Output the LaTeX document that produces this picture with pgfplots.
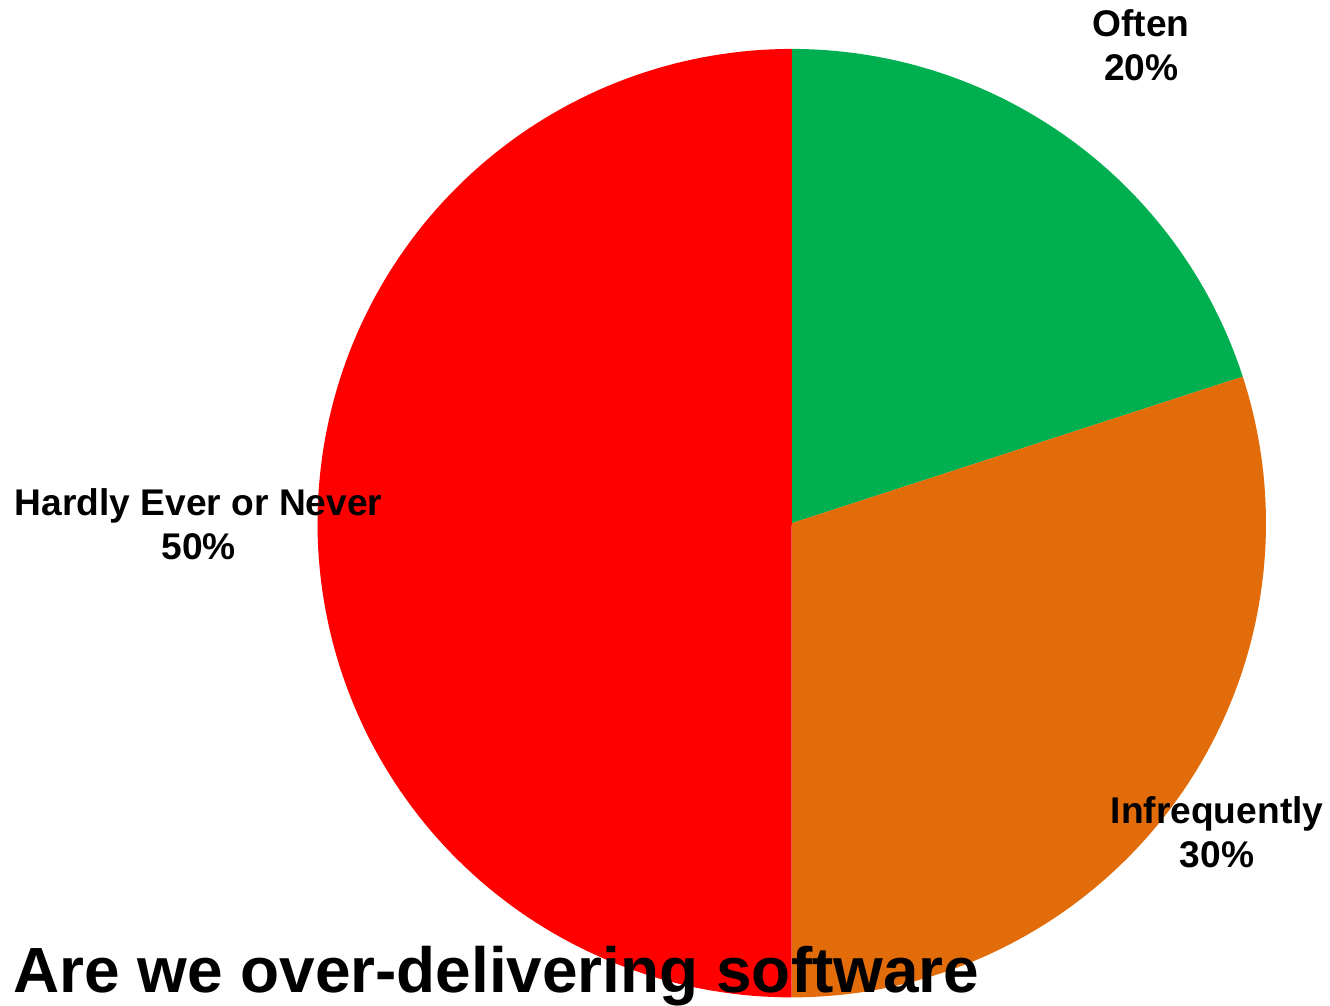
\documentclass[border=0pt]{standalone}
\usepackage{pgfplots}
\pgfplotsset{compat=1.18}
\usepackage{fontspec}
\setmainfont{Liberation Sans}
\definecolor{cOften}{HTML}{00B050}
\definecolor{cInfreq}{HTML}{E36C0A}
\definecolor{cNever}{HTML}{FF0000}
\begin{document}
\begin{tikzpicture}
% values (percent): Often, Infrequently, Hardly Ever or Never
\def\vA{20}\def\vB{30}\def\vC{50}
\pgfmathsetmacro{\aA}{90}
\pgfmathsetmacro{\aB}{90-3.6*\vA}
\pgfmathsetmacro{\aC}{\aB-3.6*\vB}
\pgfmathsetmacro{\aD}{\aC-3.6*\vC}
\begin{axis}[
  scale only axis, width=665pt, height=502.5pt,
  xmin=0, xmax=1330, ymin=0, ymax=1005,
  hide axis, clip=false,
]
\path (rel axis cs:0,0) -- (rel axis cs:1,1);
\addplot[fill=cOften, draw=none, domain=\aB:\aA, samples=80]
  ({793+475*cos(x)},{481+475*sin(x)}) -- (axis cs:793,481) -- cycle;
\addplot[fill=cInfreq, draw=none, domain=\aC:\aB, samples=100]
  ({793+475*cos(x)},{481+475*sin(x)}) -- (axis cs:793,481) -- cycle;
\addplot[fill=cNever, draw=none, domain=\aD:\aC, samples=150]
  ({793+475*cos(x)},{481+475*sin(x)}) -- (axis cs:793,481) -- cycle;
\node[align=center, font=\bfseries\fontsize{18.6}{22}\selectfont] at (axis cs:1143,960) {Often\\20\%};
\node[align=center, font=\bfseries\fontsize{18.6}{22}\selectfont] at (axis cs:1219,171) {Infrequently\\30\%};
\node[align=center, font=\bfseries\fontsize{18.6}{22}\selectfont] at (axis cs:199,480) {Hardly Ever or Never\\50\%};
\node[anchor=base west, inner sep=0pt, font=\bfseries\fontsize{32}{38}\selectfont] at (axis cs:13,11) {Are we over-delivering software};
\end{axis}
\end{tikzpicture}
\end{document}
